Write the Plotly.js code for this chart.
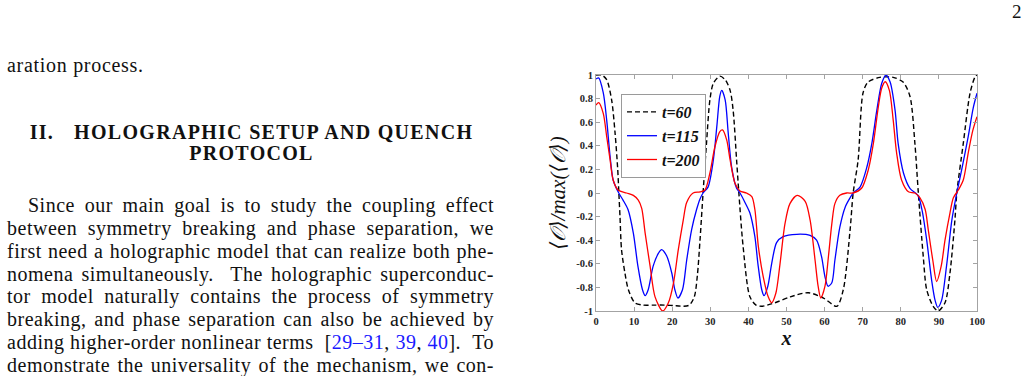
<!DOCTYPE html>
<html>
<head>
<meta charset="utf-8">
<script src="https://cdn.plot.ly/plotly-3.0.1.min.js"></script>
<style>
  html, body { margin: 0; padding: 0; background: #fff; }
  #page { position: relative; width: 1029px; height: 376px; overflow: hidden; background: #fff; }
  #chart { position: absolute; left: 0; top: 0; width: 1029px; height: 376px; }
  .txt { position: absolute; font-family: "Liberation Serif", "DejaVu Serif", serif; color: #111; z-index: 2; }
  .line { position: absolute; left: 7px; width: 487px; font-size: 20px; letter-spacing: 0.5px; line-height: 22.9px; height: 22.9px;
          text-align: justify; text-align-last: justify; white-space: nowrap; overflow: visible; }
  .cite { color: #1a1aff; }
  .head { position: absolute; left: 0; width: 503px; text-align: center; font-weight: bold; font-size: 20px; letter-spacing: 1.3px; line-height: 20.7px; }
</style>
</head>
<body>
<div id="page">
  <div id="chart"></div>
  <div class="txt" style="left:7px; top:54px; font-size:20px; letter-spacing:0.7px; line-height:22.9px;">aration process.</div>
  <div class="txt head" style="top:122px;">II.<span style="display:inline-block;width:20px;"></span>HOLOGRAPHIC SETUP AND QUENCH</div>
  <div class="txt head" style="top:143px;">PROTOCOL</div>
  <div class="txt line" style="top:193.8px; left:28px; width:466px;">Since our main goal is to study the coupling effect</div>
  <div class="txt line" style="top:216.7px;">between symmetry breaking and phase separation, we</div>
  <div class="txt line" style="top:239.6px;">first need a holographic model that can realize both phe-</div>
  <div class="txt line" style="top:262.5px;">nomena simultaneously. &nbsp;The holographic superconduc-</div>
  <div class="txt line" style="top:285.4px;">tor model naturally contains the process of symmetry</div>
  <div class="txt line" style="top:308.3px;">breaking, and phase separation can also be achieved by</div>
  <div class="txt line" style="top:331.2px;">adding higher-order nonlinear terms &nbsp;[<span class="cite">29–31</span>, <span class="cite">39</span>, <span class="cite">40</span>]. &nbsp;To</div>
  <div class="txt line" style="top:354.1px;">demonstrate the universality of the mechanism, we con-</div>
  <div class="txt" style="left:1012px; top:1px; font-size:19px; line-height:22px;">2</div>
</div>
<script>
// ---- data ----
const t60_x = [0, 1.5, 2.8, 4.1, 5.0, 5.7, 6.0, 6.3, 6.7, 7.6, 8.5, 10.2, 12.4, 15, 18, 21, 23, 24.5, 25.8, 26.6, 27.3, 28.1, 29.0, 29.9, 30.8, 32.5, 33.9, 35.2, 36.0, 36.9, 37.5, 38.6, 40.4, 42, 43.5, 47, 51, 55.7, 59.7, 63.2, 64.9, 66.7, 67.5, 68.8, 70.1, 71.4, 74.5, 78, 80.6, 82.4, 83.7, 84.6, 85.9, 86.8, 88.5, 89.8, 91.6, 92.9, 94.2, 94.7, 96.4, 98.2, 99.5, 100];
const t60_y = [1.0, 1.0, 0.96, 0.79, 0.51, 0.2, 0.0, -0.2, -0.48, -0.68, -0.82, -0.93, -0.95, -0.95, -0.95, -0.955, -0.96, -0.95, -0.88, -0.7, -0.4, 0.0, 0.42, 0.79, 0.93, 0.99, 0.96, 0.87, 0.70, 0.28, 0.0, -0.45, -0.88, -0.95, -0.96, -0.93, -0.88, -0.845, -0.89, -0.96, -0.82, -0.31, 0.0, 0.28, 0.85, 0.94, 0.98, 0.98, 0.94, 0.82, 0.42, 0.0, -0.54, -0.82, -0.96, -1.0, -0.93, -0.68, -0.23, 0.0, 0.42, 0.85, 0.985, 1.0];

const t115_x = [0, 0.7, 1.9, 2.8, 3.7, 4.5, 5.8, 7.1, 8.4, 9.8, 11.0, 12.2, 12.9, 13.7, 15.0, 16.4, 17.2, 18.5, 19.9, 20.7, 21.5, 22.7, 23.8, 25.1, 26.4, 27.3, 28.1, 29.4, 30.8, 31.7, 32.5, 33.0, 33.9, 34.7, 35.6, 36.9, 37.8, 39.1, 40.4, 41.7, 42.5, 43.5, 44.1, 45.1, 46.1, 47.4, 49.1, 52.7, 56.2, 57.9, 59.2, 60.1, 60.9, 61.9, 62.7, 64.0, 65.4, 66.7, 67.5, 69.3, 71.1, 72.4, 73.7, 75.0, 76.1, 77.2, 78.5, 79.3, 80.7, 82.4, 84.5, 85.6, 86.8, 88.1, 89.0, 89.7, 90.7, 92.0, 93.4, 94.7, 96.0, 97.7, 99.0, 100];
const t115_y = [0.966, 0.975, 0.85, 0.62, 0.31, 0.11, 0.01, -0.06, -0.14, -0.34, -0.62, -0.82, -0.87, -0.82, -0.62, -0.51, -0.48, -0.53, -0.68, -0.82, -0.89, -0.82, -0.57, -0.31, -0.14, -0.05, 0.0, 0.05, 0.28, 0.56, 0.82, 0.87, 0.79, 0.51, 0.22, 0.04, 0.0, -0.08, -0.17, -0.37, -0.6, -0.82, -0.87, -0.79, -0.6, -0.42, -0.37, -0.35, -0.36, -0.4, -0.54, -0.71, -0.79, -0.76, -0.57, -0.29, -0.12, -0.04, 0.0, 0.05, 0.22, 0.42, 0.70, 0.93, 1.0, 0.94, 0.70, 0.42, 0.17, 0.04, -0.02, -0.15, -0.40, -0.74, -0.91, -0.97, -0.91, -0.62, -0.23, 0.0, 0.2, 0.48, 0.72, 0.845];

const t200_x = [0, 0.7, 1.9, 2.8, 3.7, 4.5, 5.8, 8.0, 9.8, 11.1, 12.0, 12.9, 14.2, 15.5, 17.5, 19.0, 20.3, 21.6, 22.9, 23.8, 25.5, 27.3, 28.6, 29.9, 31.2, 32.5, 33.2, 34.3, 35.2, 36.5, 37.8, 39.5, 40.9, 41.7, 42.6, 43.9, 45.2, 46.1, 47.2, 48.3, 49.6, 50.9, 52.8, 54.9, 56.2, 57.5, 58.3, 59.0, 60.1, 61.0, 61.9, 62.7, 64.0, 65.8, 67.5, 69.7, 71.5, 72.8, 74.1, 75.0, 75.9, 77.0, 78.0, 78.9, 80.2, 82.0, 83.7, 85.0, 86.4, 87.2, 88.4, 89.4, 90.6, 91.6, 92.9, 93.8, 95.1, 96.4, 97.7, 98.9, 100];
const t200_y = [0.745, 0.765, 0.675, 0.48, 0.28, 0.11, 0.025, 0.0, -0.02, -0.06, -0.13, -0.34, -0.62, -0.88, -1.0, -0.93, -0.77, -0.48, -0.23, -0.08, 0.0, 0.01, 0.025, 0.17, 0.39, 0.52, 0.534, 0.45, 0.28, 0.08, 0.017, 0.0, -0.03, -0.14, -0.45, -0.71, -0.88, -0.93, -0.85, -0.60, -0.26, -0.09, -0.02, -0.07, -0.23, -0.57, -0.79, -0.89, -0.79, -0.54, -0.26, -0.09, -0.02, 0.0, 0.0, 0.04, 0.2, 0.42, 0.73, 0.89, 0.943, 0.87, 0.62, 0.34, 0.11, 0.01, 0.0, -0.04, -0.14, -0.31, -0.57, -0.75, -0.62, -0.40, -0.17, -0.04, 0.025, 0.11, 0.34, 0.53, 0.647];

const seriesNames = ["t=60", "t=115", "t=200"];
const xTickVals = [0, 10, 20, 30, 40, 50, 60, 70, 80, 90, 100];
const xTickText = ["0", "10", "20", "30", "40", "50", "60", "70", "80", "90", "100"];
const yTickVals = [-1, -0.8, -0.6, -0.4, -0.2, 0, 0.2, 0.4, 0.6, 0.8, 1];
const yTickText = ["-1", "-0.8", "-0.6", "-0.4", "-0.2", "0", "0.2", "0.4", "0.6", "0.8", "1"];

const W = 1029, H = 376;
const frameColor = "#a3a3a3";
const serif = "Liberation Serif";
const tickFont = { family: serif, size: 10.5, color: "#262626", weight: "bold" };

const traces = [
  { x: t60_x, y: t60_y, name: "<b><i>" + seriesNames[0] + "</i></b>", mode: "lines",
    line: { color: "#000000", width: 1.4, dash: "5px,3px", shape: "spline", smoothing: 0.8 } },
  { x: t115_x, y: t115_y, name: "<b><i>" + seriesNames[1] + "</i></b>", mode: "lines",
    line: { color: "#0000ff", width: 1.3, shape: "spline", smoothing: 0.8 } },
  { x: t200_x, y: t200_y, name: "<b><i>" + seriesNames[2] + "</i></b>", mode: "lines",
    line: { color: "#ff0000", width: 1.3, shape: "spline", smoothing: 0.8 } }
];

const axisCommon = {
  showgrid: false, zeroline: false, showline: true, linecolor: frameColor, linewidth: 1,
  mirror: "ticks", ticks: "inside", ticklen: 4, tickcolor: frameColor, tickwidth: 1,
  tickfont: tickFont, tickmode: "array"
};

const layout = {
  width: W, height: H,
  margin: { l: 0, r: 0, t: 0, b: 0 },
  paper_bgcolor: "rgba(0,0,0,0)", plot_bgcolor: "#ffffff",
  showlegend: true,
  legend: {
    x: 621 / W, y: 1 - 94 / H, xanchor: "left", yanchor: "top",
    bgcolor: "#ffffff", bordercolor: "#9a9a9a", borderwidth: 1,
    font: { family: serif, size: 16, color: "#111" },
    itemwidth: 30, tracegroupgap: 0
  },
  xaxis: Object.assign({}, axisCommon, {
    domain: [596 / W, 977 / W], range: [0, 100],
    tickvals: xTickVals, ticktext: xTickText,
    title: { text: "<b><i>x</i></b>", font: { family: serif, size: 20, color: "#111" }, standoff: 4 }
  }),
  yaxis: Object.assign({}, axisCommon, {
    domain: [1 - 311 / H, 1 - 75 / H], range: [-1, 1],
    tickvals: yTickVals, ticktext: yTickText,
    title: { text: "<i>⟨𝒪⟩/max(⟨𝒪⟩)</i>", font: { family: "Liberation Serif, DejaVu Serif, serif", size: 21, color: "#111" }, standoff: 4 }
  })
};

Plotly.newPlot("chart", traces, layout, { staticPlot: true, displayModeBar: false });
</script>
</body>
</html>
